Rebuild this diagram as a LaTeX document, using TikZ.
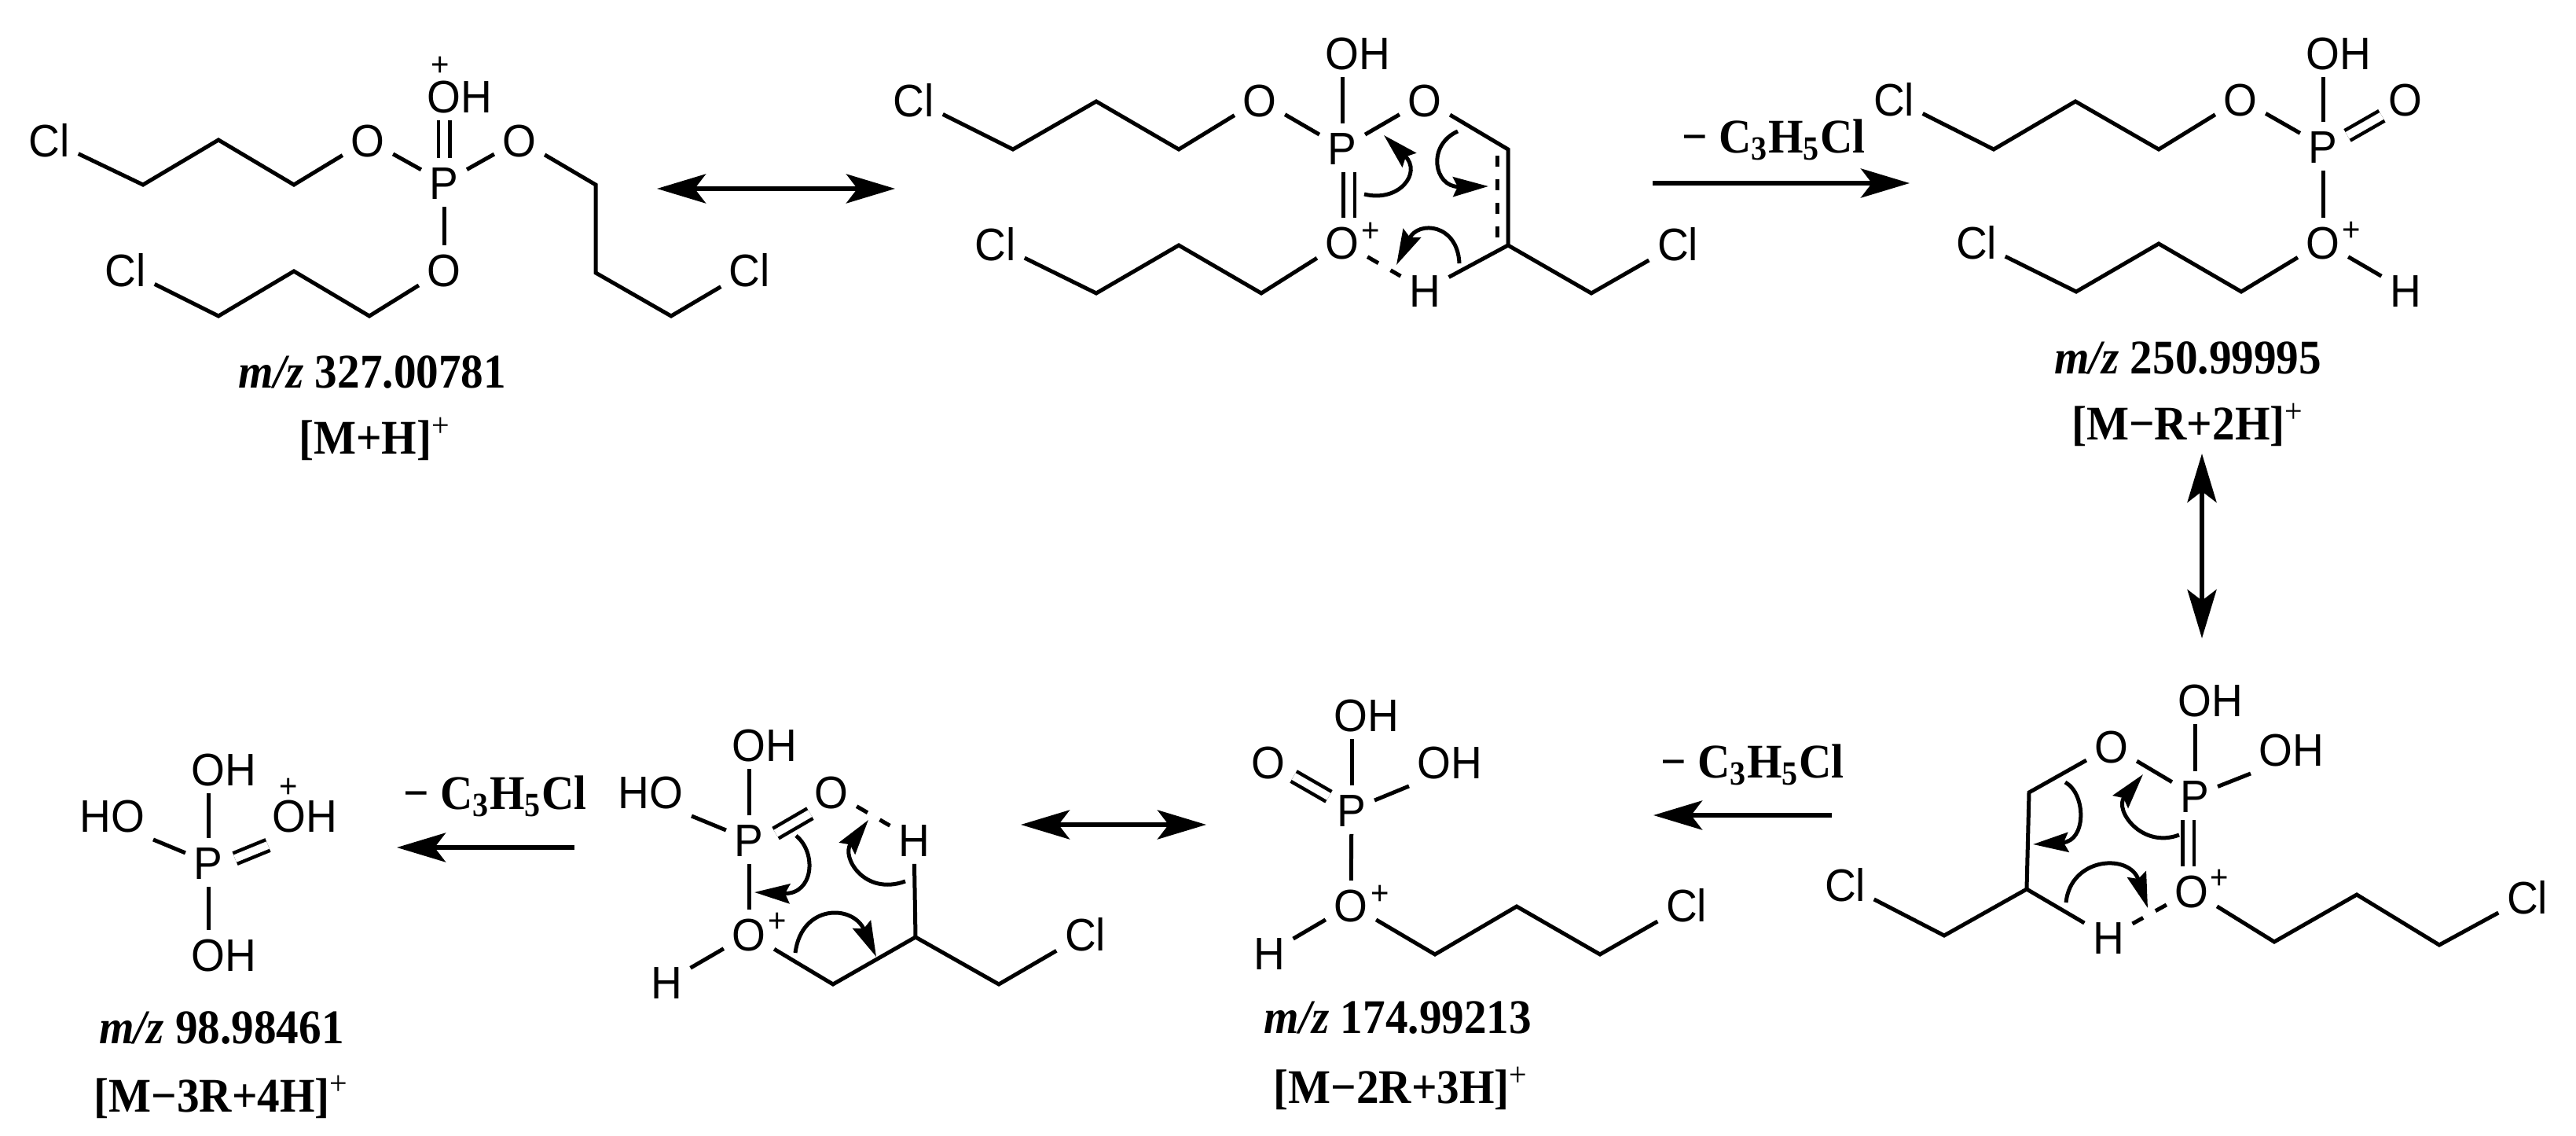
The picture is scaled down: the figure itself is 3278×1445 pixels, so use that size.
\documentclass[tikz,border=0pt]{standalone}
\usepackage{fontspec}
\setmainfont{Liberation Serif}[FakeStretch=0.93]
\newfontfamily\atomfont{Liberation Sans}[FakeStretch=0.95]
\usetikzlibrary{arrows.meta}

\begin{document}
\begin{tikzpicture}[x=0.1mm,y=-0.1mm]
    \tikzset{atom/.style={font=\atomfont\fontsize{16.5}{17}\selectfont,inner xsep=1mm,inner ysep=0.9mm,text height=4.25mm,text depth=0pt}}
    \tikzset{chg/.style={font=\atomfont\fontsize{12}{13}\selectfont,inner sep=0pt}}
    \tikzset{caption/.style={font=\bfseries\fontsize{17.5}{18}\selectfont,inner sep=0pt}}
    \tikzset{bond/.style={draw,line width=0.5mm,line join=miter}}
    \tikzset{dbond/.style={draw,double,line width=0.45mm,double distance=1mm}}
    \tikzset{dashb/.style={draw,line width=0.5mm,dash pattern=on 1.6mm off 1.8mm}}
    \tikzset{curly/.style={draw,line width=0.5mm,-{Stealth[length=4.5mm,width=2.5mm,inset=0.6mm]}}}
    \tikzset{rxn/.style={draw,line width=0.6mm,-{Stealth[length=6.2mm,width=3.7mm,inset=1.4mm]}}}
    \tikzset{reso/.style={draw,line width=0.6mm,{Stealth[length=6.2mm,width=3.7mm,inset=1.4mm]}-{Stealth[length=6.2mm,width=3.7mm,inset=1.4mm]}}}
    \useasboundingbox (0,0) rectangle (3278,1445);

    \node[atom] (acl1) at (63,178) {Cl};
    \coordinate (ac1) at (182,235);
    \coordinate (ac2) at (278,178);
    \coordinate (ac3) at (374,235);
    \node[atom] (ao1) at (468,178) {O};
    \node[atom] (ap) at (565,232) {P};
    \node[atom] (aoh) at (585,122) {OH};
    \node[chg] (aplus) at (560,84) {+};
    \node[atom] (ao2) at (661,178) {O};
    \coordinate (ac4) at (758,235);
    \coordinate (ac5) at (758,347);
    \coordinate (ac6) at (854,402);
    \node[atom] (acl2) at (954,343) {Cl};
    \node[atom] (ao3) at (565,343) {O};
    \coordinate (ac7) at (470,402);
    \coordinate (ac8) at (374,345);
    \coordinate (ac9) at (278,402);
    \node[atom] (acl3) at (160,343) {Cl};
    \path[bond] (acl1) -- (ac1) -- (ac2) -- (ac3) -- (ao1);
    \path[bond] (ao1) -- (ap);
    \path[bond] (ap) -- (ao2);
    \path[bond] (ao2) -- (ac4) -- (ac5) -- (ac6) -- (acl2);
    \path[bond] (ap) -- (ao3);
    \path[bond] (ao3) -- (ac7) -- (ac8) -- (ac9) -- (acl3);
    \path[dbond] (ap) -- (aoh.south -| ap);
    \node[caption] (amz) at (474,473) {\textit{m/z} 327.00781};
    \node[caption] (aion) at (477,558) {[M+H]\textsuperscript{\mdseries +}};

    \node[atom] (bcl1) at (1163,127) {Cl};
    \coordinate (bc1) at (1289,190);
    \coordinate (bc2) at (1395,129);
    \coordinate (bc3) at (1500,190);
    \node[atom] (bo1) at (1603,127) {O};
    \node[atom] (bp) at (1708,188) {P};
    \node[atom] (boh) at (1728,67) {OH};
    \node[atom] (bo2) at (1813,127) {O};
    \coordinate (bc4) at (1919,190);
    \coordinate (bc5) at (1919,312);
    \coordinate (bc6) at (2025,373);
    \node[atom] (bcl2) at (2135,310) {Cl};
    \node[atom] (bo3) at (1708,308) {O};
    \node[chg] (bplus) at (1744,295) {+};
    \coordinate (bc7) at (1605,373);
    \coordinate (bc8) at (1500,312);
    \coordinate (bc9) at (1395,373);
    \node[atom] (bcl3) at (1267,310) {Cl};
    \node[atom] (bh) at (1813,369) {H};
    \coordinate (bda) at (1905,198);
    \coordinate (bdb) at (1905,302);
    \path[bond] (bcl1) -- (bc1) -- (bc2) -- (bc3) -- (bo1);
    \path[bond] (bo1) -- (bp);
    \path[bond] (bp) -- (bo2);
    \path[bond] (bp) -- (boh.south -| bp);
    \path[bond] (bo2) -- (bc4) -- (bc5) -- (bc6) -- (bcl2);
    \path[bond] (bc5) -- (bh);
    \path[bond] (bo3) -- (bc7) -- (bc8) -- (bc9) -- (bcl3);
    \path[dbond] ([xshift=0.85mm]bp.south) -- ([xshift=0.85mm]bo3.north);
    \path[dashb] (bo3) -- (bh);
    \path[dashb,dash pattern=on 1.4mm off 1.6mm] (bda) -- (bdb);
    \coordinate (bas) at (1736,247);
    \coordinate (bat) at (1761,172);
    \coordinate (bbs) at (1855,167);
    \coordinate (bbt) at (1894,237);
    \coordinate (bcs) at (1857,335);
    \coordinate (bct) at (1777,337);
    \path[curly] (bas) .. controls (1780,258) and (1810,220) .. (bat);
    \path[curly] (bbs) .. controls (1815,185) and (1825,238) .. (bbt);
    \path[curly] (bcs) .. controls (1855,285) and (1805,280) .. (bct);

    \node[atom] (ccl1) at (2410,126) {Cl};
    \coordinate (cc1) at (2537,190);
    \coordinate (cc2) at (2641,129);
    \coordinate (cc3) at (2747,190);
    \node[atom] (co1) at (2851,126) {O};
    \node[atom] (cp) at (2956,186) {P};
    \node[atom] (coh) at (2976,67) {OH};
    \node[atom] (co2) at (3061,126) {O};
    \node[atom] (co3) at (2956,308) {O};
    \node[chg] (cplus) at (2992,294) {+};
    \node[atom] (ch) at (3061,369) {H};
    \coordinate (cc4) at (2852,371);
    \coordinate (cc5) at (2747,310);
    \coordinate (cc6) at (2642,371);
    \node[atom] (ccl2) at (2515,308) {Cl};
    \path[bond] (ccl1) -- (cc1) -- (cc2) -- (cc3) -- (co1);
    \path[bond] (co1) -- (cp);
    \path[bond] (cp) -- (coh.south -| cp);
    \path[dbond,transform canvas={xshift=0.2mm,yshift=-0.3mm}] (cp) -- (co2);
    \path[bond] (cp) -- (co3);
    \path[bond] (co3) -- (ch);
    \path[bond] (co3) -- (cc4) -- (cc5) -- (cc6) -- (ccl2);
    \node[caption] (cmz) at (2784,455) {\textit{m/z} 250.99995};
    \node[caption] (cion) at (2784,540) {[M−R+2H]\textsuperscript{\mdseries +}};

    \node[atom] (do1) at (2687,949) {O};
    \node[atom] (dp) at (2793,1012) {P};
    \node[atom] (doh1) at (2813,890) {OH};
    \node[atom] (doh2) at (2916,953) {OH};
    \coordinate (dc1) at (2582,1008);
    \coordinate (dc2) at (2579,1131);
    \coordinate (dc3) at (2474,1190);
    \node[atom] (dcl1) at (2348,1125) {Cl};
    \node[atom] (dh) at (2683,1192) {H};
    \node[atom] (do2) at (2789,1133) {O};
    \node[chg] (dplus) at (2824,1118) {+};
    \coordinate (dc4) at (2894,1198);
    \coordinate (dc5) at (2999,1138);
    \coordinate (dc6) at (3104,1202);
    \node[atom] (dcl2) at (3216,1141) {Cl};
    \path[bond] (dp) -- (doh1.south -| dp);
    \path[bond] (dp) -- (doh2.south west);
    \path[bond] (dp) -- (do1);
    \path[bond] (do1) -- (dc1) -- (dc2) -- (dc3) -- (dcl1);
    \path[bond] (dc2) -- (dh);
    \path[bond] (do2) -- (dc4) -- (dc5) -- (dc6) -- (dcl2);
    \path[dbond] ([xshift=-0.85mm]dp.south) -- ([xshift=-0.45mm]do2.north);
    \path[dashb] (do2) -- (dh);
    \coordinate (das) at (2628,995);
    \coordinate (dat) at (2587,1074);
    \coordinate (dbs) at (2773,1062);
    \coordinate (dbt) at (2727,985);
    \coordinate (dcs) at (2629,1148);
    \coordinate (dct) at (2733,1155);
    \path[curly] (das) .. controls (2655,1010) and (2655,1070) .. (dat);
    \path[curly] (dbs) .. controls (2725,1080) and (2690,1030) .. (dbt);
    \path[curly] (dcs) .. controls (2635,1090) and (2710,1085) .. (dct);

    \node[atom] (eoh1) at (1739,909) {OH};
    \node[atom] (eoh2) at (1845,969) {OH};
    \node[atom] (eo1) at (1614,969) {O};
    \node[atom] (ep) at (1720,1030) {P};
    \node[atom] (eo2) at (1719,1151) {O};
    \node[chg] (eplus) at (1756,1138) {+};
    \node[atom] (eh) at (1615,1212) {H};
    \coordinate (ec1) at (1826,1214);
    \coordinate (ec2) at (1930,1153);
    \coordinate (ec3) at (2036,1214);
    \node[atom] (ecl) at (2146,1151) {Cl};
    \path[bond] (ep) -- (eoh1.south -| ep);
    \path[bond] (ep) -- (eoh2.south west);
    \path[dbond] (ep) -- (eo1);
    \path[bond] (ep) -- (eo2);
    \path[bond] (eo2) -- (eh);
    \path[bond] (eo2) -- (ec1) -- (ec2) -- (ec3) -- (ecl);
    \node[caption] (emz) at (1779,1295) {\textit{m/z} 174.99213};
    \node[caption] (eion) at (1783,1384) {[M−2R+3H]\textsuperscript{\mdseries +}};

    \node[atom] (foh) at (973,947) {OH};
    \node[atom] (fho) at (828,1007) {HO};
    \node[atom] (fo1) at (1058,1007) {O};
    \node[atom] (fp) at (953,1068) {P};
    \node[atom] (fo2) at (953,1188) {O};
    \node[chg] (fplus) at (989,1173) {+};
    \node[atom] (fh1) at (848,1249) {H};
    \coordinate (fc1) at (1060,1252);
    \coordinate (fc2) at (1165,1192);
    \coordinate (fc3) at (1271,1252);
    \node[atom] (fcl) at (1381,1188) {Cl};
    \node[atom] (fh2) at (1163,1068) {H};
    \path[bond] (fp) -- (foh.south -| fp);
    \path[bond] (fp) -- (fho.south east);
    \path[dbond,transform canvas={xshift=0.5mm,yshift=-0.9mm}] (fp) -- (fo1);
    \path[bond] (fp) -- (fo2);
    \path[bond] (fo2) -- (fh1);
    \path[bond] (fo2) -- (fc1) -- (fc2) -- (fc3) -- (fcl);
    \path[bond] (fc2) -- (fh2);
    \path[dashb] (fo1) -- (fh2);
    \coordinate (fas) at (1013,1063);
    \coordinate (fat) at (960,1135);
    \coordinate (fbs) at (1152,1121);
    \coordinate (fbt) at (1105,1043);
    \coordinate (fcs) at (1012,1212);
    \coordinate (fct) at (1115,1217);
    \path[curly] (fas) .. controls (1040,1085) and (1035,1138) .. (fat);
    \path[curly] (fbs) .. controls (1100,1140) and (1070,1090) .. (fbt);
    \path[curly] (fcs) .. controls (1020,1150) and (1085,1150) .. (fct);

    \node[atom] (goh1) at (285,978) {OH};
    \node[atom] (gho) at (143,1037) {HO};
    \node[atom] (goh2) at (388,1037) {OH};
    \node[chg] (gplus) at (367,1002) {+};
    \node[atom] (gp) at (265,1097) {P};
    \node[atom] (goh3) at (285,1214) {OH};
    \path[bond] (gp) -- (goh1.south -| gp);
    \path[bond] (gp) -- (gho.south east);
    \path[dbond,transform canvas={xshift=0.5mm,yshift=-0.7mm}] (gp) -- (goh2.south west);
    \path[bond] (gp) -- (goh3.north -| gp);
    \node[caption] (gmz) at (282,1307) {\textit{m/z} 98.98461};
    \node[caption] (gion) at (282,1395) {[M−3R+4H]\textsuperscript{\mdseries +}};

    \coordinate (ra1) at (836,240);
    \coordinate (ra2) at (1139,240);
    \path[reso] (ra1) -- (ra2);
    \coordinate (rb1) at (2103,233);
    \coordinate (rb2) at (2430,233);
    \path[rxn] (rb1) -- (rb2);
    \node[caption] (rbt) at (2257,178) {− C\textsubscript{3}H\textsubscript{5}Cl};
    \coordinate (rc1) at (2802,577);
    \coordinate (rc2) at (2802,812);
    \path[reso] (rc1) -- (rc2);
    \coordinate (rd1) at (2331,1037);
    \coordinate (rd2) at (2104,1037);
    \path[rxn] (rd1) -- (rd2);
    \node[caption] (rdt) at (2230,973) {− C\textsubscript{3}H\textsubscript{5}Cl};
    \coordinate (re1) at (1299,1049);
    \coordinate (re2) at (1535,1049);
    \path[reso] (re1) -- (re2);
    \coordinate (rf1) at (731,1078);
    \coordinate (rf2) at (505,1078);
    \path[rxn] (rf1) -- (rf2);
    \node[caption] (rft) at (630,1013) {− C\textsubscript{3}H\textsubscript{5}Cl};
  \end{tikzpicture}
\end{document}
